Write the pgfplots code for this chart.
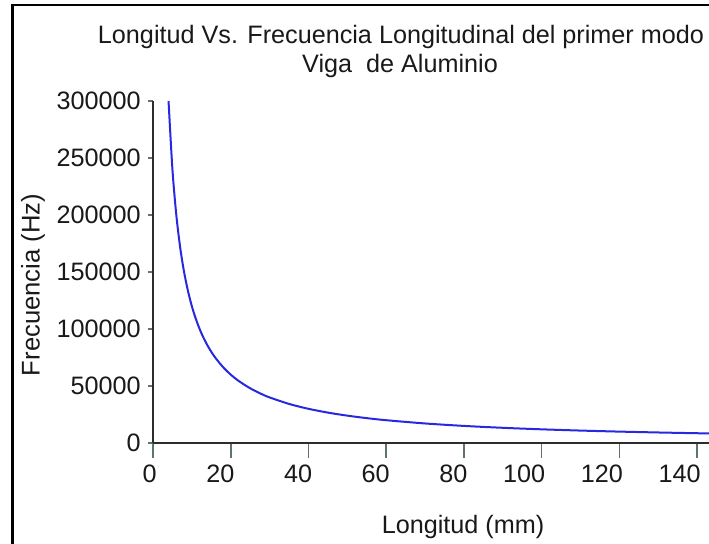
\documentclass[border=0pt]{standalone}
\usepackage{pgfplots}
\pgfplotsset{compat=1.18}
\usepackage{fontspec}
\setmainfont{Liberation Sans}
\definecolor{curveblue}{RGB}{40,40,225}
\definecolor{tickgray}{RGB}{95,115,112}
\definecolor{axisgray}{RGB}{45,45,45}
\begin{document}
\begin{tikzpicture}
\useasboundingbox (0,0) rectangle (354.5pt,271.5pt);
\clip (0,0) rectangle (354.5pt,271.5pt);
\fill[white] (0,0) rectangle (354.5pt,271.5pt);
\draw[black, line width=1.4pt] (6.25pt,-10pt) -- (6.25pt,269pt) -- (400pt,269pt);
\begin{axis}[
  scale only axis,
  width=291.45pt, height=171pt,
  at={(76.5pt,50pt)}, anchor=origin,
  xmin=0, xmax=150, ymin=0, ymax=300000,
  axis lines=left,
  axis line style={axisgray, line width=1pt, -},
  xtick={0,20,...,140},
  ytick={0,50000,...,300000},
  tick align=outside,
  major tick length=7.5pt,
  xtick style={tickgray, line width=0.8pt},
  ytick style={tickgray, line width=0.8pt, /pgfplots/major tick length=2.5pt},
  scaled ticks=false,
  /pgf/number format/fixed,
  /pgf/number format/precision=0,
  /pgf/number format/1000 sep={},
  /pgf/number format/assume math mode=true,
  ticklabel style={font=\fontsize{12.6}{14}\selectfont, text=black!90},
  xticklabel style={anchor=north east, inner xsep=0pt, xshift=2pt},
  yticklabel style={anchor=east, inner xsep=0pt, xshift=1.5pt},
  clip=false,
]
\addplot[curveblue, line width=1pt, smooth] coordinates {
(4,300000) (5,240000) (6,200000) (7,171429) (8,150000) (9,133333)
(10,120000) (11,109091) (12,100000) (13,92308) (14,85714) (15,80000)
(16,75000) (18,66667) (20,60000) (22,54545) (25,48000) (28,42857)
(30,40000) (35,34286) (40,30000) (45,26667) (50,24000) (55,21818)
(60,20000) (70,17143) (80,15000) (90,13333) (100,12000) (110,10909)
(120,10000) (130,9231) (140,8571) (150,8000)
};
\end{axis}
\node[anchor=base, font=\fontsize{12.6}{14}\selectfont, text=black!90] at (200.5pt,250pt) {Longitud Vs. Frecuencia Longitudinal del primer modo};
\node[anchor=base, font=\fontsize{12.6}{14}\selectfont, text=black!90] at (200pt,235.5pt) {Viga\ \ de Aluminio};
\node[rotate=90, anchor=center, font=\fontsize{12.8}{14}\selectfont, text=black!90] at (16.5pt,129pt) {Frecuencia (Hz)};
\node[anchor=center, font=\fontsize{12.6}{14}\selectfont, text=black!90] at (231.5pt,8pt) {Longitud (mm)};
\end{tikzpicture}
\end{document}
